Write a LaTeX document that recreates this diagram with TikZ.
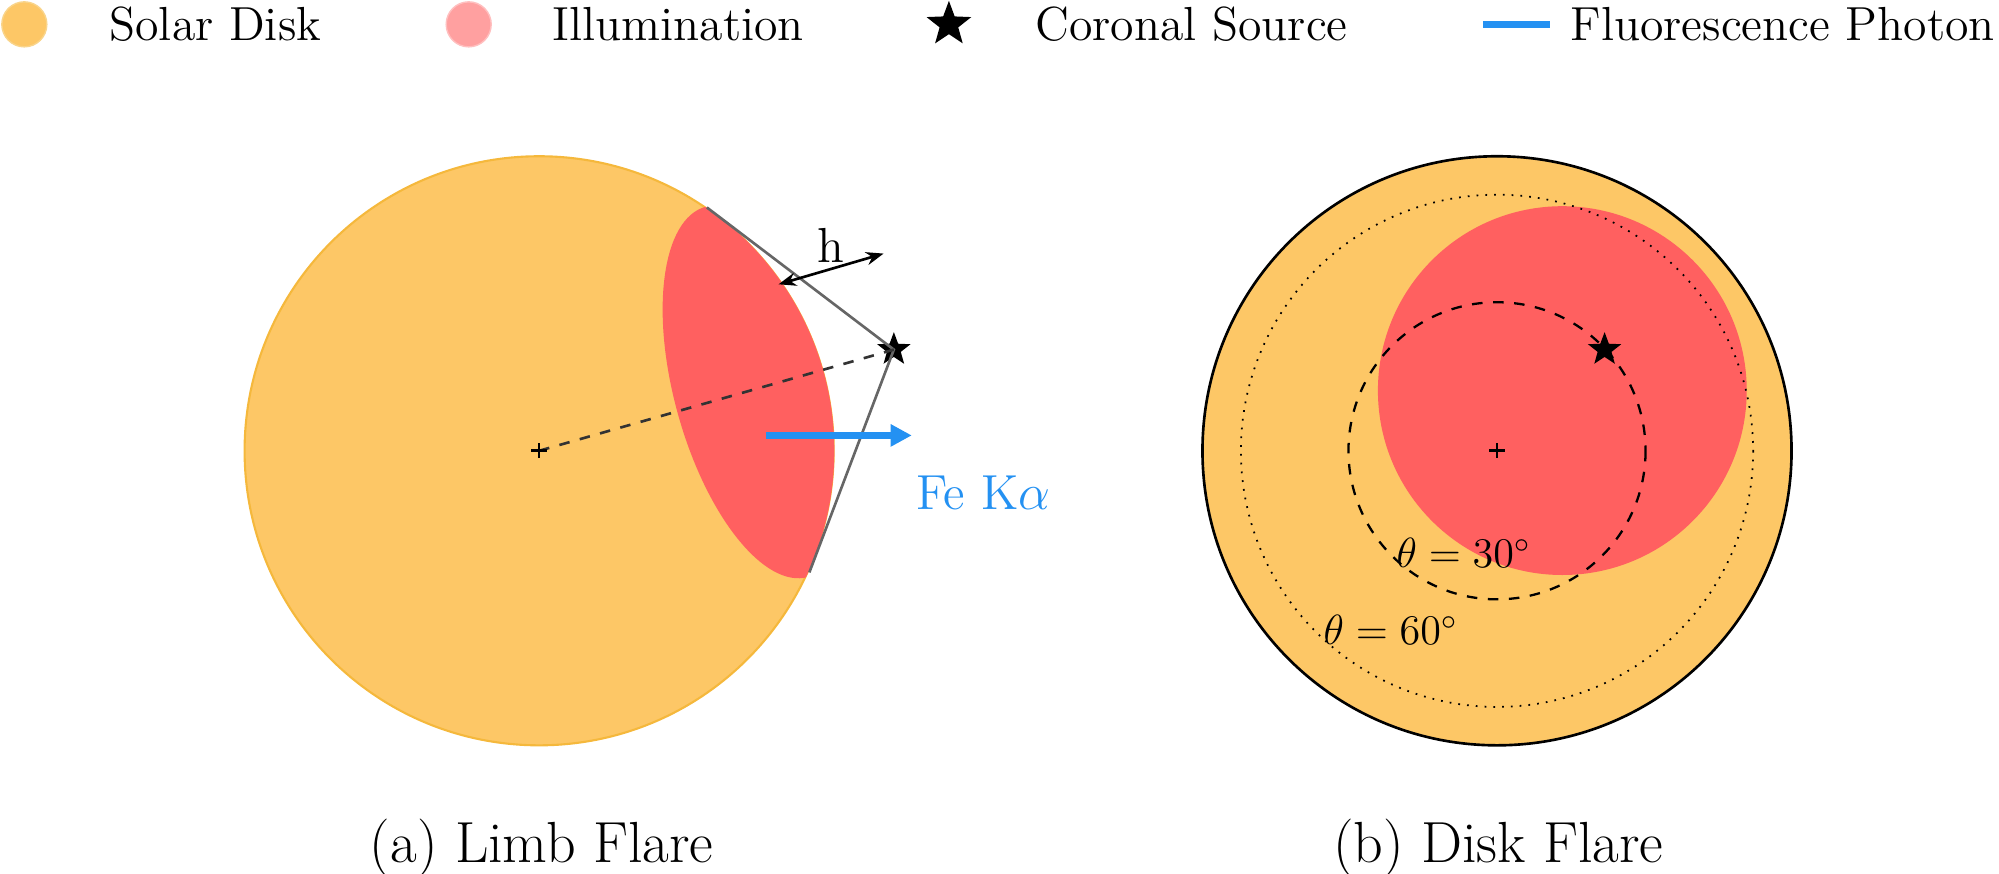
\documentclass[tikz,border=0pt]{standalone}
\usetikzlibrary{shapes.geometric,arrows.meta}
\definecolor{sun}{HTML}{FDC766}
\definecolor{sunedge}{HTML}{F5B83C}
\definecolor{illum}{HTML}{FF6060}
\definecolor{photon}{HTML}{2491F2}
\begin{document}
\begin{tikzpicture}[x=0.0128cm,y=-0.0128cm,
  lbl/.style={font=\fontsize{13.6}{16}\selectfont,anchor=west,inner sep=0},
  captxt/.style={font=\fontsize{16.5}{19}\selectfont},
  src/.style={star,star points=5,star point ratio=2.4,fill=black,inner sep=0,minimum size=0.35cm}]
\useasboundingbox (0,0) rectangle (1561,682);
% legend
\node[circle,fill=sun,draw=sunedge!60,minimum size=0.45cm,inner sep=0] (l1) at (19,19) {};
\node[lbl] (t1) at (85,19) {Solar Disk};
\node[circle,fill=illum!60,draw=illum!40,minimum size=0.45cm,inner sep=0] (l2) at (366,19) {};
\node[lbl] (t2) at (431,19) {Illumination};
\node[src,minimum size=0.47cm] (l3) at (741,19) {};
\node[lbl] (t3) at (808,19) {Coronal Source};
\coordinate (l4a) at (1158,19); \coordinate (l4b) at (1210,19);
\draw[photon,line width=2pt] (l4a) -- (l4b);
\node[lbl] (t4) at (1226,19) {Fluorescence Photon};
% left disk
\coordinate (c1) at (421,352);
\fill[sun,draw=sunedge,line width=0.6pt] (c1) circle (230);
\begin{scope}
\clip (c1) circle (230.5);
\fill[illum] (591,306) ellipse[x radius=64,y radius=150,rotate=15.5];
\end{scope}
\node[src] (s1) at (698,273) {};
\coordinate (p1) at (552,162); \coordinate (p2) at (632,447);
\draw[black!60,line width=0.75pt] (p1) -- (s1.center) -- (p2);
\draw[black!80,dashed,line width=0.75pt] (c1) -- (s1.center);
\draw[line width=0.75pt] (c1) ++(-6,0) -- ++(12,0) (c1) ++(0,-6) -- ++(0,12);
\coordinate (h1) at (608,222); \coordinate (h2) at (690,198);
\draw[{Stealth[length=5pt]}-{Stealth[length=5pt]},line width=0.75pt] (h1) -- (h2);
\node[font=\fontsize{14}{16}\selectfont] (h) at (649,192) {h};
\coordinate (b1) at (598,340); \coordinate (b2) at (712,340);
\draw[photon,line width=1.8pt,-{Triangle[length=6pt,width=6pt]}] (b1) -- (b2);
\node[lbl,text=photon,font=\fontsize{14}{16}\selectfont] (fe) at (715,385) {Fe K$\alpha$};
\node[captxt] (ca) at (423,662) {(a) Limb Flare};
% right disk
\coordinate (c2) at (1169,352);
\fill[sun,draw=black,line width=0.75pt] (c2) circle (230);
\fill[illum] (1220,305) circle (144);
\draw[dotted,line width=0.5pt] (c2) circle (200);
\draw[dashed,line width=0.65pt] (c2) circle (116);
\draw[line width=0.75pt] (c2) ++(-6,0) -- ++(12,0) (c2) ++(0,-6) -- ++(0,12);
\node[src] (s2) at (1253,273) {};
\node[font=\fontsize{11.5}{13}\selectfont] (th30) at (1143,432) {$\theta=30^\circ$};
\node[font=\fontsize{11.5}{13}\selectfont] (th60) at (1086,492) {$\theta=60^\circ$};
\node[captxt] (cb) at (1170,662) {(b) Disk Flare};
\end{tikzpicture}
\end{document}
